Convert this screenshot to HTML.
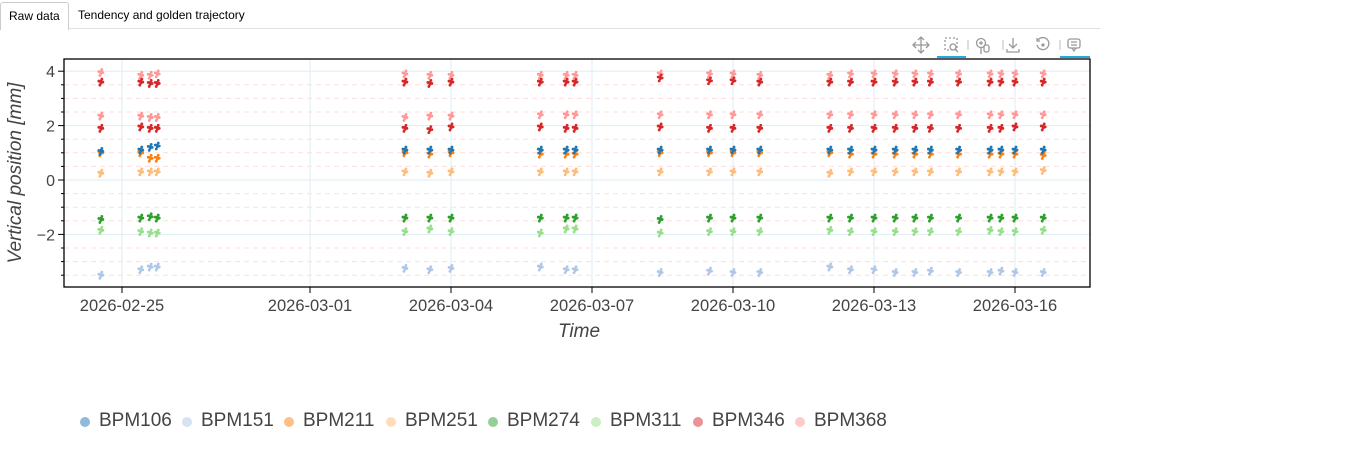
<!DOCTYPE html>
<html><head><meta charset="utf-8"><style>
body{margin:0;width:1366px;height:459px;background:#fff;font-family:"Liberation Sans",sans-serif;overflow:hidden;position:relative}
.tabs{position:absolute;left:0;top:0;width:1100px;height:28px;border-bottom:1px solid #e0e0e0}
.tab{position:absolute;top:2px;height:26px;line-height:26px;font-size:12px;color:#000;padding:0 8px}
.tab.active{left:0;border:1px solid #ccc;border-bottom:none;border-radius:3px 3px 0 0;background:#fff;height:27px;width:51px}
</style></head><body>
<div class="tabs">
<div class="tab active">Raw data</div>
<div class="tab" style="left:70px">Tendency and golden trajectory</div>
</div>
<svg id="c" width="1366" height="459" style="position:absolute;left:0;top:0">
<g id="toolbar" stroke="#999" fill="none" stroke-width="1.3">
<g><path d="M913 45h16M921 37v16M918 40l3-3 3 3M918 50l3 3 3-3M916 42l-3 3 3 3M926 42l3 3-3 3"/></g>
<g><rect x="945" y="38" width="12" height="12" stroke-dasharray="2 2"/><circle cx="953" cy="47" r="3"/><path d="M955 49l3 3"/><rect x="937" y="56" width="29" height="2" fill="#26aae1" stroke="none"/></g>
<path d="M968 40v10M1003 40v10M1060 40v10" stroke="#ccc"/>
<g><circle cx="981" cy="43" r="4.5"/><path d="M981 48v6M979 43h4M981 41v4"/><rect x="984" y="45" width="5" height="7" rx="2"/></g>
<g><path d="M1013 38v10M1009 44l4 4 4-4M1007 49v3h12v-3"/></g>
<g><path d="M1038 40a6 6 0 1 1-1 5M1037 38v3h3"/><circle cx="1043" cy="45" r="1" fill="#999"/></g>
<g><rect x="1068" y="39" width="12" height="9" rx="2"/><path d="M1071 42h6M1071 45h6M1072 48l2 3 2-3"/><rect x="1060" y="56" width="30" height="2" fill="#26aae1" stroke="none"/></g>
</g>
</svg>
<script>
const sessionDays=[-0.45,0.4,0.6,0.75,6.02,6.55,7.0,8.9,9.45,9.64,11.45,12.5,13.0,13.57,15.06,15.5,16.0,16.45,16.87,17.2,17.8,18.47,18.7,19.0,19.6];
const bpm106=[1.05,1.1,1.2,1.25,1.1,1.1,1.1,1.1,1.1,1.1,1.1,1.1,1.1,1.1,1.1,1.1,1.1,1.1,1.1,1.1,1.1,1.1,1.1,1.1,1.1];
const bpm151=[-3.5,-3.3,-3.2,-3.2,-3.25,-3.3,-3.25,-3.2,-3.3,-3.3,-3.4,-3.35,-3.4,-3.4,-3.2,-3.3,-3.3,-3.4,-3.4,-3.35,-3.4,-3.4,-3.35,-3.4,-3.4];
const bpm211=[1.0,1.0,0.8,0.8,1.0,0.95,1.0,0.95,0.95,0.95,1.0,1.0,1.0,1.0,1.0,0.95,0.95,0.95,0.95,0.95,0.95,0.95,0.95,0.95,0.9];
const bpm251=[0.25,0.3,0.3,0.3,0.3,0.25,0.3,0.3,0.3,0.3,0.3,0.3,0.3,0.3,0.25,0.3,0.3,0.3,0.3,0.3,0.3,0.3,0.3,0.3,0.35];
const bpm274=[-1.45,-1.4,-1.35,-1.4,-1.4,-1.4,-1.4,-1.4,-1.4,-1.4,-1.45,-1.4,-1.4,-1.4,-1.4,-1.4,-1.4,-1.4,-1.4,-1.4,-1.4,-1.4,-1.4,-1.4,-1.4];
const bpm311=[-1.85,-1.9,-1.95,-1.95,-1.9,-1.8,-1.9,-1.95,-1.8,-1.8,-1.95,-1.9,-1.9,-1.9,-1.85,-1.9,-1.9,-1.9,-1.9,-1.9,-1.9,-1.85,-1.9,-1.9,-1.85];
const bpm346Low=[1.9,1.95,1.9,1.9,1.9,1.85,1.95,1.95,1.9,1.9,1.95,1.9,1.9,1.9,1.9,1.9,1.9,1.9,1.9,1.9,1.9,1.9,1.9,1.95,1.95];
const bpm346High=[3.6,3.6,3.55,3.55,3.6,3.55,3.6,3.6,3.6,3.6,3.75,3.65,3.65,3.6,3.6,3.6,3.6,3.6,3.6,3.6,3.6,3.6,3.6,3.6,3.6];
const bpm368Low=[2.35,2.35,2.3,2.3,2.3,2.35,2.35,2.4,2.4,2.4,2.4,2.4,2.4,2.4,2.4,2.4,2.4,2.4,2.4,2.4,2.4,2.4,2.4,2.4,2.4];
const bpm368High=[3.95,3.85,3.85,3.9,3.9,3.85,3.85,3.85,3.85,3.85,3.9,3.9,3.9,3.85,3.85,3.9,3.9,3.9,3.9,3.9,3.9,3.9,3.9,3.9,3.9];
const yTicks=[4,2,0,-2];
const xTickDays=[0,4,7,10,13,16,19];
const xTickLabels=["2026-02-25","2026-03-01","2026-03-04","2026-03-07","2026-03-10","2026-03-13","2026-03-16"];
const legendNames=["BPM106","BPM151","BPM211","BPM251","BPM274","BPM311","BPM346","BPM368"];
const colors=["#1f77b4","#aec7e8","#ff7f0e","#ffbb78","#2ca02c","#98df8a","#d62728","#ff9896"];

const L=64,R=1090,T=59,B=287;
const xs=d=>122+d*47;
const ys=v=>180-v*27.2;
const svg=document.getElementById('c');
const NS='http://www.w3.org/2000/svg';
function mk(t,a,p){const e=document.createElementNS(NS,t);for(const k in a)e.setAttribute(k,a[k]);(p||svg).appendChild(e);return e;}
const plot=mk('g',{});


for(let v=-3.5;v<=4.01;v+=0.5){if(Math.abs(v%2)<0.01)continue;
 const g=mk('line',{x1:L,x2:R,y1:ys(v),y2:ys(v),stroke:'#fdd',"stroke-dasharray":'5 4'},plot);
 
 }
yTicks.forEach(v=>{const g=mk('line',{x1:L,x2:R,y1:ys(v),y2:ys(v),stroke:'#ddeef5'},plot);
 
 });
xTickDays.forEach(d=>{const g=mk('line',{x1:xs(d),x2:xs(d),y1:T,y2:B,stroke:'#ddeef5'},plot);
 
 });
const offs=[[-2,-1],[0,1],[2,0],[-1,3],[1,-3],[0,-1]];
const rows=[[bpm151,1],[bpm311,5],[bpm251,3],[bpm274,4],[bpm368Low,7],[bpm368High,7],[bpm211,2],[bpm106,0],[bpm346Low,6],[bpm346High,6]];
rows.forEach(([arr,ci])=>{
 const g=mk('g',{fill:colors[ci]},plot);
 
 
 sessionDays.forEach((d,i)=>{offs.forEach(o=>{
  const c=mk('circle',{cx:xs(d)+o[0],cy:ys(arr[i])+o[1],r:1.4},g);
  
  });});
});
const fr=mk('rect',{x:L,y:T,width:R-L,height:B-T,fill:'none',stroke:'#000','stroke-width':1.3});


const ya=mk('g',{});


for(let v=-3.5;v<=4.3;v+=0.5){const maj=Math.abs(v%2)<0.01;mk('line',{x1:L-(maj?6:3),x2:L,y1:ys(v),y2:ys(v),stroke:'#000'},ya);}
yTicks.forEach(v=>{const t=mk('text',{x:L-9,y:ys(v)+6,'text-anchor':'end','font-size':16,fill:'#444'},ya);t.textContent=v<0?'\u2212'+(-v):v;
 
 });
const yt=mk('text',{x:21,y:173,'text-anchor':'middle','font-size':19,'font-style':'italic',fill:'#444',transform:'rotate(-90 21 173)'});
yt.textContent='Vertical position [mm]';


const xa=mk('g',{});


xTickDays.forEach((d,i)=>{mk('line',{x1:xs(d),x2:xs(d),y1:B,y2:B+6,stroke:'#000'},xa);
 const t=mk('text',{x:xs(d),y:B+24,'text-anchor':'middle','font-size':16.5,fill:'#444'},xa);t.textContent=xTickLabels[i];
 
 });
const xt=mk('text',{x:579,y:337,'text-anchor':'middle','font-size':19,'font-style':'italic',fill:'#444'});
xt.textContent='Time';


const lg=mk('g',{});


const lx=[85,187,289,391,493,596,698,800];
legendNames.forEach((n,i)=>{const e=mk('g',{},lg);
 
 
 mk('circle',{cx:lx[i],cy:422,r:5,fill:colors[i],'fill-opacity':0.5},e);
 const t=mk('text',{x:lx[i]+14,y:426,'font-size':19,fill:'#444'},e);t.textContent=n;});
</script>
</body></html>
